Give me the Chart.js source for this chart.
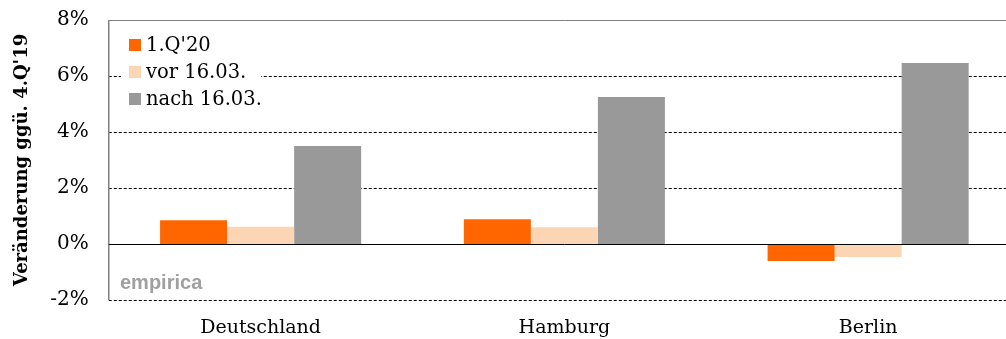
<!DOCTYPE html>
<html>
<head>
<meta charset="utf-8">
<script src="https://cdn.jsdelivr.net/npm/chart.js@4"></script>
<style>
  html, body { margin: 0; padding: 0; background: #fff; overflow: hidden; }
</style>
</head>
<body>
<canvas id="chart" width="1020" height="339"></canvas>
<script>
// Daten
const regionen = ['Deutschland', 'Hamburg', 'Berlin'];
const serienNamen = ["1.Q'20", 'vor 16.03.', 'nach 16.03.'];
const quartal = [0.85, 0.88, -0.61];
const vorLockdown = [0.62, 0.6, -0.46];
const nachLockdown = [3.5, 5.25, 6.46];
const yTicks = [-2, 0, 2, 4, 6, 8];

const farben = ['#ff6600', '#fcd5b5', '#999999'];

// Gitterlinien selbst zeichnen (gestrichelt, Nulllinie durchgezogen)
const gitterPlugin = {
    id: 'gitter',
    beforeDatasetsDraw(chart) {
        const ctx = chart.ctx;
        const area = chart.chartArea;
        const y = chart.scales.y;
        ctx.save();
        yTicks.forEach(v => {
            if (v === 0) return;
            const py = Math.round(y.getPixelForValue(v)) + 0.5;
            ctx.beginPath();
            if (v === 8) {
                ctx.setLineDash([]);
                ctx.strokeStyle = '#808080';
            } else {
                ctx.setLineDash([3, 2]);
                ctx.strokeStyle = '#000';
            }
            ctx.lineWidth = 1;
            ctx.moveTo(area.left, py);
            ctx.lineTo(area.right, py);
            ctx.stroke();
        });
        // linke Achse
        ctx.setLineDash([]);
        ctx.strokeStyle = '#808080';
        ctx.lineWidth = 1.5;
        ctx.beginPath();
        ctx.moveTo(area.left, area.top);
        ctx.lineTo(area.left, area.bottom);
        ctx.stroke();
        ctx.restore();
    },
    afterDatasetsDraw(chart) {
        const ctx = chart.ctx;
        const area = chart.chartArea;
        const y = chart.scales.y;
        ctx.save();
        // Nulllinie
        const py0 = Math.round(y.getPixelForValue(0)) + 0.5;
        ctx.strokeStyle = '#000';
        ctx.lineWidth = 1;
        ctx.beginPath();
        ctx.moveTo(area.left, py0);
        ctx.lineTo(area.right, py0);
        ctx.stroke();

        // Legende im Diagramm
        ctx.fillStyle = '#fff';
        ctx.fillRect(121, 32, 140, 80);
        ctx.font = '19.5px "DejaVu Serif"';
        ctx.textBaseline = 'middle';
        const zeilen = [45, 72, 99];
        chart.data.datasets.forEach((ds, i) => {
            ctx.fillStyle = ds.backgroundColor;
            ctx.fillRect(129, zeilen[i] - 6, 12, 12);
            ctx.fillStyle = '#000';
            ctx.fillText(ds.label, 146, zeilen[i] + 1);
        });

        // Wasserzeichen
        ctx.font = 'bold 20px "Liberation Sans"';
        ctx.fillStyle = '#a0a0a0';
        ctx.fillText('empirica', 120, 283);
        ctx.restore();
    }
};

const ctx = document.getElementById('chart').getContext('2d');
const chart = new Chart(ctx, {
    type: 'bar',
    data: {
        labels: regionen,
        datasets: [
            { label: serienNamen[0], data: quartal, backgroundColor: farben[0] },
            { label: serienNamen[1], data: vorLockdown, backgroundColor: farben[1] },
            { label: serienNamen[2], data: nachLockdown, backgroundColor: farben[2] }
        ]
    },
    options: {
        responsive: false,
        animation: false,
        devicePixelRatio: 1,
        layout: { padding: { top: 20, left: 0, right: 0, bottom: 0 } },
        datasets: {
            bar: { categoryPercentage: 0.662, barPercentage: 1.0, borderWidth: 0 }
        },
        scales: {
            x: {
                grid: { display: false, drawTicks: false },
                border: { display: false },
                ticks: {
                    color: '#000',
                    font: { family: 'DejaVu Serif', size: 19 },
                    padding: 17
                },
                afterFit(scale) {
                    scale.height = 39;
                    scale.paddingLeft = 0;
                    scale.paddingRight = 0;
                }
            },
            y: {
                min: -2,
                max: 8,
                afterBuildTicks(scale) {
                    scale.ticks = yTicks.map(v => ({ value: v }));
                },
                grid: { display: false, drawTicks: false },
                border: { display: false },
                ticks: {
                    color: '#000',
                    font: { family: 'DejaVu Serif', size: 20 },
                    padding: 20,
                    callback: v => v + '%'
                },
                title: {
                    display: true,
                    text: "Veränderung ggü. 4.Q'19",
                    color: '#000',
                    font: { family: 'DejaVu Serif', size: 18, weight: 'bold' },
                    padding: { top: 12, bottom: 0 }
                },
                afterFit(scale) {
                    scale.width = 108.75;
                    scale.paddingTop = 0;
                    scale.paddingBottom = 0;
                }
            }
        },
        plugins: {
            legend: { display: false },
            tooltip: { enabled: false }
        }
    },
    plugins: [gitterPlugin]
});
</script>
</body>
</html>
